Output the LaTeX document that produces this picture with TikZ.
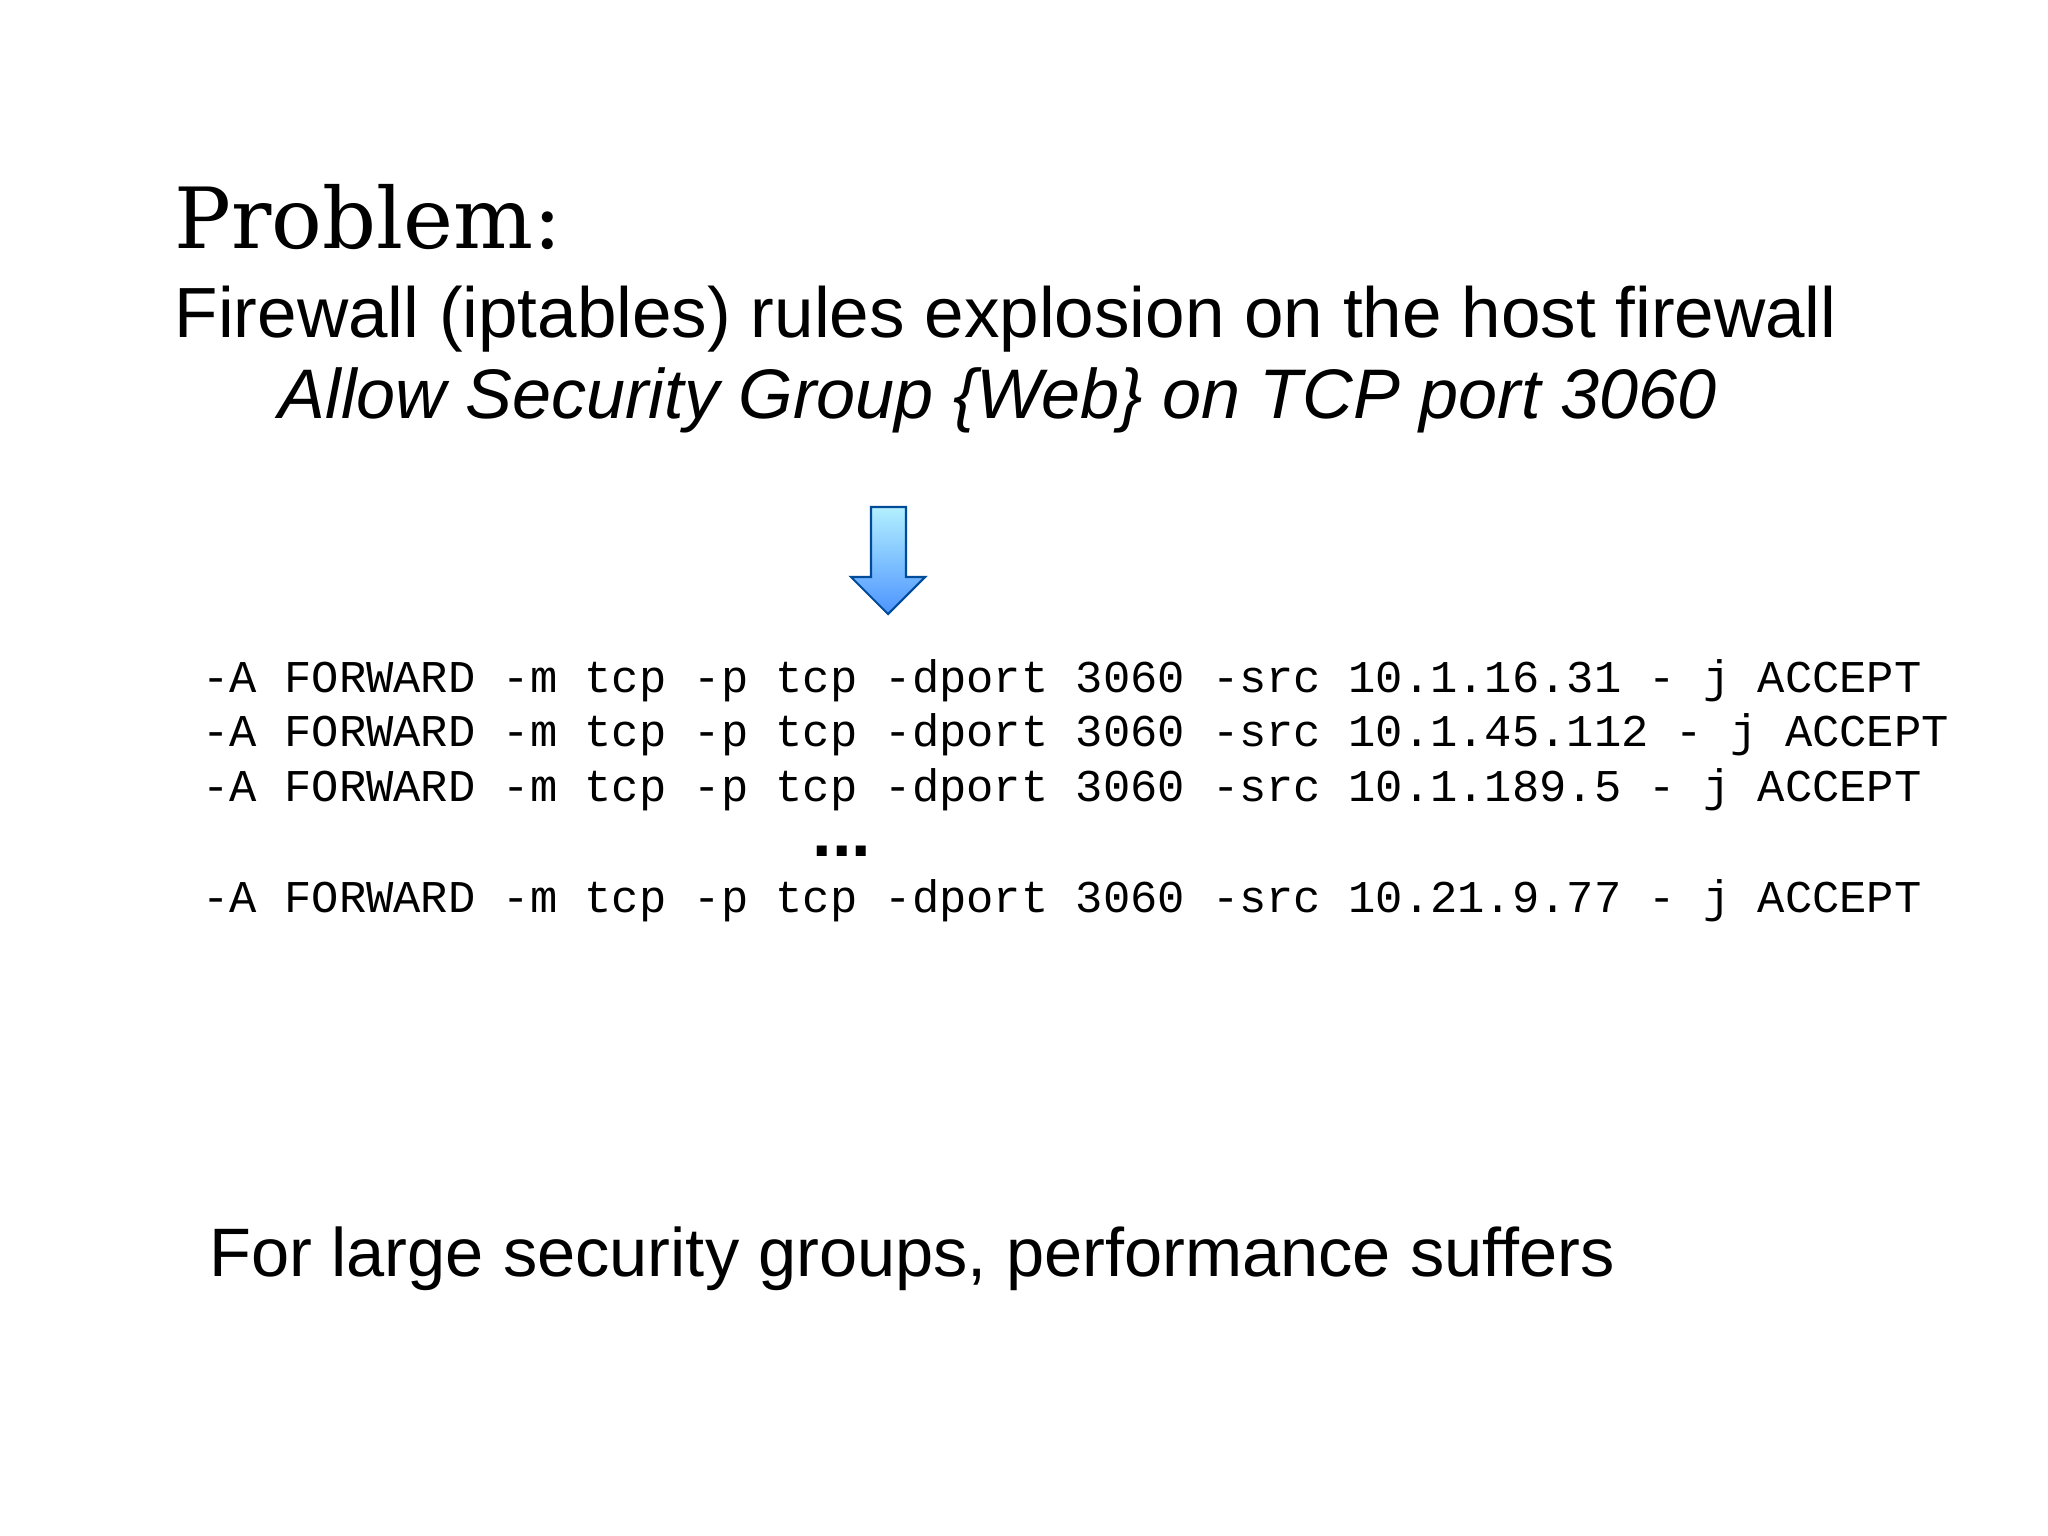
\documentclass[tikz,border=0pt]{standalone}
\usepackage{fontspec}
\setmainfont{Liberation Sans}
\newfontfamily\slabfont{DejaVu Serif}
\newfontfamily\codefont{Liberation Mono}
\begin{document}
\begin{tikzpicture}[x=0.01cm,y=-0.01cm,
  txt/.style={anchor=base west,inner sep=0pt},
  code/.style={txt,font=\codefont\fontsize{12.93}{14}\selectfont}]
\useasboundingbox[fill=white] (0,0) rectangle (2048,1536);
\node[txt,font=\slabfont\fontsize{24}{30}\selectfont] (title) at (174,248) {Problem:};
\node[txt,font=\fontsize{20.2}{24}\selectfont] (sub) at (174,337) {Firewall (iptables) rules explosion on the host firewall};
\node[txt,font=\itshape\fontsize{19.95}{24}\selectfont] (allow) at (278,418) {Allow Security Group \{Web\} on TCP port 3060};
\shade[top color=blue!20!cyan!30, bottom color=blue!60!cyan!70, draw=blue!50!cyan!60!black, line width=0.6pt]
  (871,507) -- (906,507) -- (906,577) -- (925,577) -- (888,614) -- (851,577) -- (871,577) -- cycle;
\node[code] (l1) at (202,692) {-A FORWARD -m tcp -p tcp -dport 3060 -src 10.1.16.31 - j ACCEPT};
\node[code] (l2) at (202,746) {-A FORWARD -m tcp -p tcp -dport 3060 -src 10.1.45.112 - j ACCEPT};
\node[code] (l3) at (202,801) {-A FORWARD -m tcp -p tcp -dport 3060 -src 10.1.189.5 - j ACCEPT};
\node[txt,font=\bfseries\fontsize{20}{24}\selectfont] (dots) at (812,856) {...};
\node[code] (l4) at (202,912) {-A FORWARD -m tcp -p tcp -dport 3060 -src 10.21.9.77 - j ACCEPT};
\node[txt,font=\fontsize{19.5}{22}\selectfont] (bottom) at (209,1276) {For large security groups, performance suffers};
\end{tikzpicture}
\end{document}
